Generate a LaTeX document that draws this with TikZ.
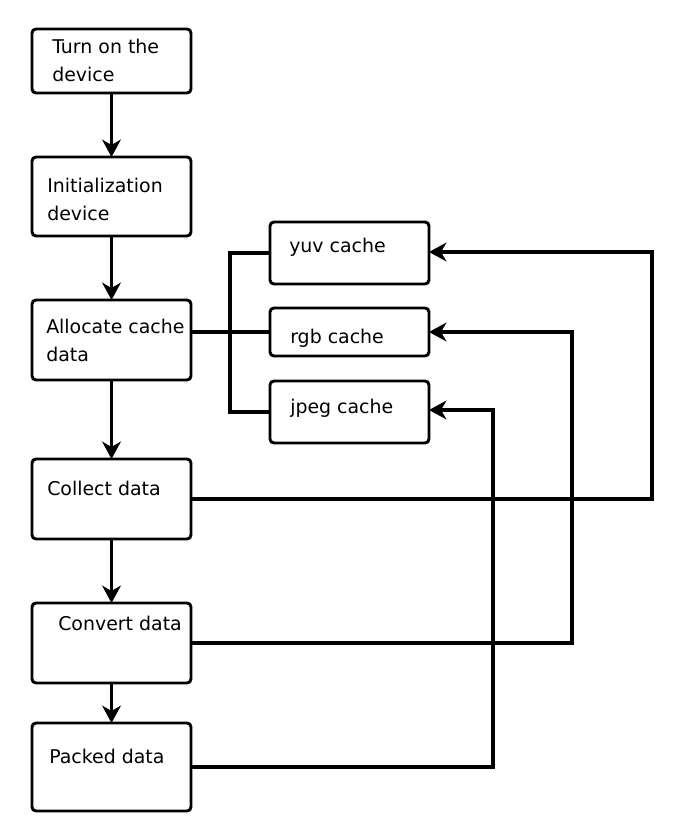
\documentclass[tikz,border=0pt]{standalone}
\usepackage{fontspec}
\setmainfont{DejaVu Sans}
\usetikzlibrary{arrows.meta}
\begin{document}
\begin{tikzpicture}[x=0.75pt,y=-0.75pt,
  wire/.style={draw, line width=2.6pt},
  box/.style={draw, line width=2.2pt, rounded corners=3pt, inner sep=0pt, outer sep=0pt,
    minimum width=119.25pt},
  lbl/.style={anchor=base west, inner sep=0pt, font=\fontsize{14.2}{21}\selectfont},
  arr/.style={wire, -{Stealth[length=13pt,width=14pt,inset=4pt]}}]
\useasboundingbox (0,0) rectangle (678,820);

% main flow
\node[box, minimum height=48pt]    (b1) at (111.5,61) {};
\node[box, minimum height=59.25pt] (b2) at (111.5,196.5) {};
\node[box, minimum height=60pt]    (b3) at (111.5,340) {};
\node[box, minimum height=60pt]    (b4) at (111.5,499) {};
\node[box, minimum height=60pt]    (b5) at (111.5,643) {};
\node[box, minimum height=66pt]    (b6) at (111.5,767) {};

% caches
\node[box, minimum height=46.5pt] (c1) at (349.5,253) {};
\node[box, minimum height=36pt]   (c2) at (349.5,332) {};
\node[box, minimum height=46.5pt] (c3) at (349.5,412) {};

% labels
\node[lbl] (t1a) at (52,54) {Turn on the};
\node[lbl] (t1b) at (52,82) {device};
\node[lbl] (t2a) at (47,192) {Initialization};
\node[lbl] (t2b) at (47,220) {device};
\node[lbl] (t3a) at (46,333) {Allocate cache};
\node[lbl] (t3b) at (46,361) {data};
\node[lbl] (t4) at (47,495) {Collect data};
\node[lbl] (t5) at (58,630) {Convert data};
\node[lbl] (t6) at (49,763) {Packed data};
\node[lbl] (t7) at (289,252) {yuv cache};
\node[lbl] (t8) at (290,343) {rgb cache};
\node[lbl] (t9) at (290,413) {jpeg cache};

% vertical arrows
\draw[arr] (b1) -- (b2);
\draw[arr] (b2) -- (b3);
\draw[arr] (b3) -- (b4);
\draw[arr] (b4) -- (b5);
\draw[arr] (b5) -- (b6);

% allocation branch
\coordinate (sp) at (230,333);
\draw[wire] (b3.east |- c2.west) -- (c2.west);
\draw[wire] (c1.west) -| (sp) |- (c3.west);

% feedback lines
\coordinate (r1) at (652,252);
\coordinate (r2) at (572,332);
\coordinate (r3) at (493,410);
\draw[arr] (b4.east |- 0,499) -| (r1) -- (r1 -| c1.east);
\draw[arr] (b5.east |- 0,643) -| (r2) -- (r2 -| c2.east);
\draw[arr] (b6.east) -| (r3) -- (r3 -| c3.east);
\end{tikzpicture}
\end{document}
